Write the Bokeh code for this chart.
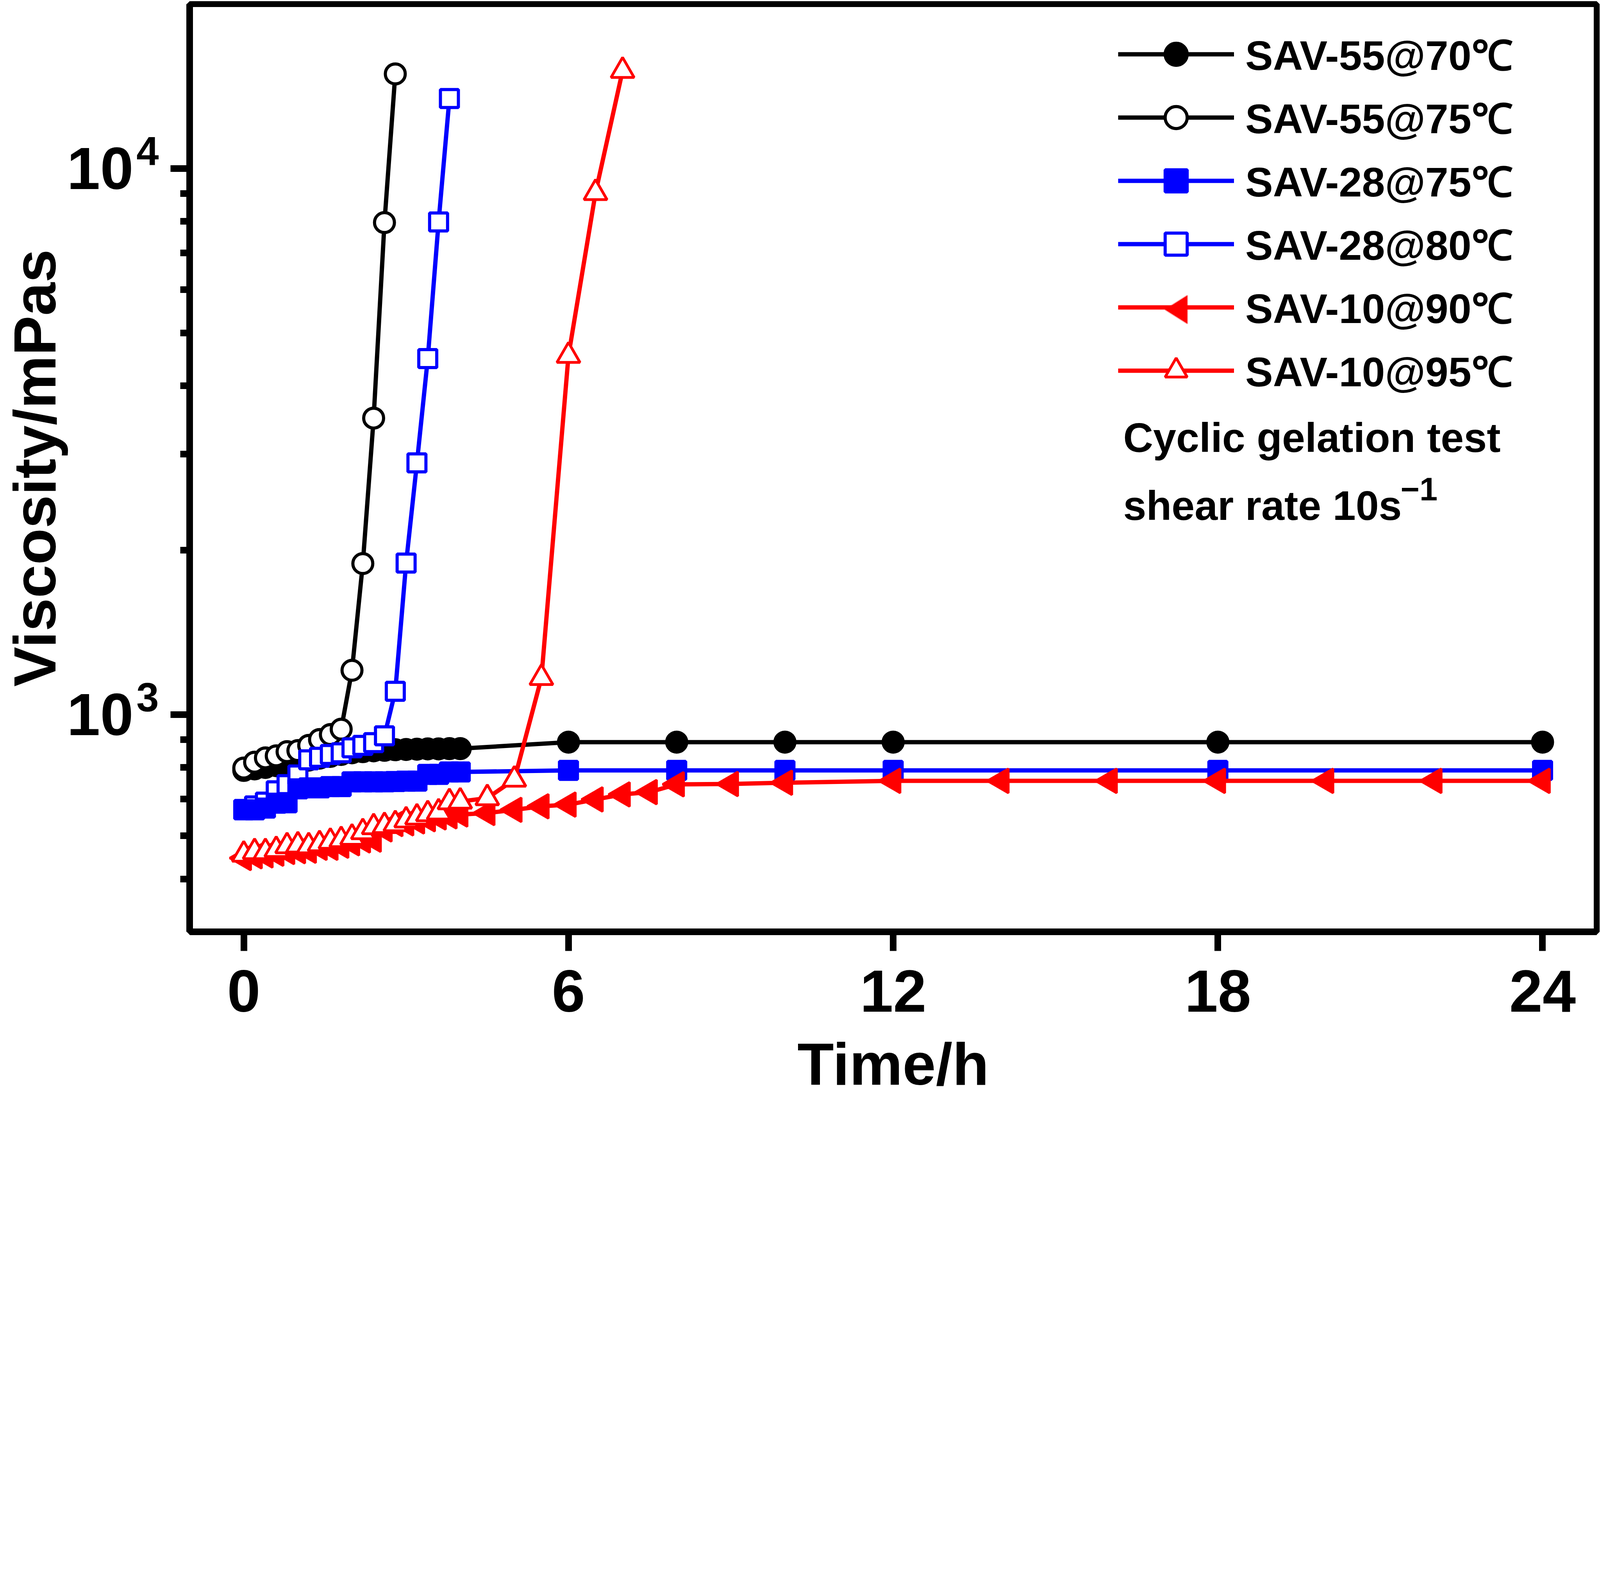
import math
from bokeh.plotting import figure
from bokeh.models import (Range1d, FixedTicker, Legend, LegendItem, Label, PolyAnnotation,
                          LogAxis, LogScale)
from bokeh.embed import file_html
from bokeh.resources import INLINE

# SAV-55 @ 70 C  (filled black circles)
time_55_70 = [0, 0.2, 0.4, 0.6, 0.8, 1.0, 1.2, 1.4, 1.6, 1.8, 2.0, 2.2, 2.4, 2.6, 2.8,
              3.0, 3.2, 3.4, 3.6, 3.8, 4.0, 6, 8, 10, 12, 18, 24]
visc_55_70 = [790, 795, 800, 806, 812, 818, 825, 832, 838, 845, 851, 855, 858, 860, 862,
              863, 864, 865, 865, 866, 866, 890, 890, 890, 890, 890, 890]

# SAV-55 @ 75 C  (open black circles)
time_55_75 = [0, 0.2, 0.4, 0.6, 0.8, 1.0, 1.2, 1.4, 1.6, 1.8, 2.0, 2.2, 2.4, 2.6, 2.8]
visc_55_75 = [798, 818, 833, 840, 855, 859, 878, 900, 919, 940, 1205, 1890, 3490, 7960, 14900]

# SAV-28 @ 75 C  (filled blue squares)
time_28_75 = [0, 0.2, 0.4, 0.6, 0.8, 1.0, 1.2, 1.4, 1.6, 1.8, 2.0, 2.2, 2.4, 2.6, 2.8,
              3.0, 3.2, 3.4, 3.6, 3.8, 4.0, 6, 8, 10, 12, 18, 24]
visc_28_75 = [669, 669, 674, 688, 689, 731, 734, 734, 738, 738, 753, 753, 753, 753, 754,
              755, 755, 777, 777, 785, 785, 790, 790, 790, 790, 790, 790]

# SAV-28 @ 80 C  (open blue squares)
time_28_80 = [0, 0.2, 0.4, 0.6, 0.8, 1.0, 1.2, 1.4, 1.6, 1.8, 2.0, 2.2, 2.4, 2.6, 2.8,
              3.0, 3.2, 3.4, 3.6, 3.8]
visc_28_80 = [670, 680, 691, 725, 744, 775, 826, 835, 845, 851, 869, 878, 888, 914, 1103,
              1894, 2890, 4485, 7980, 13430]

# SAV-10 @ 90 C  (filled red left triangles)
time_10_90 = [0, 0.2, 0.4, 0.6, 0.8, 1.0, 1.2, 1.4, 1.6, 1.8, 2.0, 2.2, 2.4, 2.6, 2.8,
              3.0, 3.2, 3.4, 3.6, 3.8, 4.0, 4.5, 5, 5.5, 6, 6.5, 7, 7.5, 8, 9, 10,
              12, 14, 16, 18, 20, 22, 24]
visc_10_90 = [546, 550, 552, 556, 560, 562, 563, 570, 570, 575, 581, 588, 590, 616, 630,
              632, 637, 643, 648, 651, 656, 660, 669, 679, 684, 699, 714, 721, 745, 746, 750,
              756, 756, 756, 756, 756, 756, 756]

# SAV-10 @ 95 C  (open red triangles)
time_10_95 = [0, 0.2, 0.4, 0.6, 0.8, 1.0, 1.2, 1.4, 1.6, 1.8, 2.0, 2.2, 2.4, 2.6, 2.8,
              3.0, 3.2, 3.4, 3.6, 3.8, 4.0, 4.5, 5, 5.5, 6, 6.5, 7]
visc_10_95 = [554, 560, 560, 565, 574, 576, 574, 579, 585, 589, 595, 609, 622, 625, 630,
              640, 648, 657, 662, 691, 693, 703, 760, 1167, 4540, 9020, 15100]

x_ticks = [0, 6, 12, 18, 24]
y_ticks = [1000, 10000]
y_minor = [500, 600, 700, 800, 900, 2000, 3000, 4000, 5000, 6000, 7000, 8000, 9000]
y_labels = {1000: "10", 10000: "10"}
y_exponents = {1000: "3", 10000: "4"}

FONT = "Liberation Sans"

p = figure(width=4117, height=2831, y_axis_type="log",
           x_range=Range1d(-1, 25), y_range=Range1d(400, 20000),
           output_backend="svg", toolbar_location=None,
           min_border_left=476, min_border_right=30,
           min_border_top=10, min_border_bottom=446,
           x_axis_label="Time/h")
p.grid.visible = False
p.outline_line_color = "black"
p.outline_line_width = 15
p.background_fill_color = "white"
p.border_fill_color = "white"

# series: (time, visc, colour, marker, fill, size, marker line width, angle, label)
series = {
    "55_70": (time_55_70, visc_55_70, "black", "circle", "black", 51, 8, 0, "SAV-55@70℃"),
    "55_75": (time_55_75, visc_55_75, "black", "circle", "white", 51, 8, 0, "SAV-55@75℃"),
    "28_80": (time_28_80, visc_28_80, "blue", "square", "white", 46, 8, 0, "SAV-28@80℃"),
    "28_75": (time_28_75, visc_28_75, "blue", "square", "blue", 46, 8, 0, "SAV-28@75℃"),
    "10_90": (time_10_90, visc_10_90, "red", "triangle", "red", 62, 6, math.pi / 2, "SAV-10@90℃"),
    "10_95": (time_10_95, visc_10_95, "red", "triangle", "white", 59, 7, 0, "SAV-10@95℃"),
}

rends = {}
for key in ["55_70", "55_75", "28_80", "28_75", "10_90", "10_95"]:
    t, v, col, mk, fill, sz, lw, ang, lab = series[key]
    ln = p.line(t, v, line_color=col, line_width=11)
    sc = p.scatter(t, v, marker=mk, size=sz, fill_color=fill, line_color=col,
                   line_width=lw, angle=ang)
    rends[key] = (ln, sc, lab)

items = []
for key in ["55_70", "55_75", "28_75", "28_80", "10_90", "10_95"]:
    ln, sc, lab = rends[key]
    # the legend draws markers unrotated, so the left triangle is added below
    rs = [ln] if key == "10_90" else [ln, sc]
    items.append(LegendItem(label=lab, renderers=rs))

legend = Legend(items=items, location=(2377, 1365), padding=0, margin=0,
                glyph_width=297, glyph_height=141, label_height=141, spacing=18,
                label_standoff=29, border_line_alpha=0, background_fill_alpha=0,
                label_text_font=FONT, label_text_font_size="106px",
                label_text_font_style="bold", label_text_color="black")
p.add_layout(legend)

# left-pointing triangle of the SAV-10@90 legend entry
p.add_layout(PolyAnnotation(xs=[2497, 2554, 2554], ys=[1593, 1629, 1557],
                            xs_units="screen", ys_units="screen",
                            fill_color="red", fill_alpha=1.0,
                            line_color="red", line_width=4))

def note(x, y, text, size):
    p.add_layout(Label(x=x, y=y, x_units="screen", y_units="screen", text=text,
                       text_font=FONT, text_font_size=size, text_font_style="bold",
                       text_color="black", text_baseline="alphabetic"))

note(2390, 1266, "Cyclic gelation test", "106px")
note(2390, 1092, "shear rate 10s", "106px")
note(3100, 1134, "−1", "83px")

for ax in p.axis:
    ax.axis_line_width = 17
    ax.axis_line_color = "black"
    ax.major_tick_line_width = 17
    ax.minor_tick_line_width = 17
    ax.major_tick_out = 49
    ax.major_tick_in = 0
    ax.minor_tick_out = 24
    ax.minor_tick_in = 0
    ax.major_label_text_font = FONT
    ax.major_label_text_font_size = "153px"
    ax.major_label_text_font_style = "bold"
    ax.major_label_text_color = "black"
    ax.axis_label_text_font = FONT
    ax.axis_label_text_font_size = "153px"
    ax.axis_label_text_font_style = "bold"
    ax.axis_label_text_color = "black"

p.xaxis.ticker = FixedTicker(ticks=x_ticks, minor_ticks=[])
p.xaxis.major_label_standoff = 50
p.xaxis.axis_label_standoff = 45

# y axis next to the frame: ticks only
yax = p.yaxis[0]
yax.ticker = FixedTicker(ticks=y_ticks, minor_ticks=y_minor)
yax.major_label_overrides = {1000: "", 10000: ""}
yax.major_label_standoff = 0

# exponents, on a range shifted so that they sit raised beside the "10"
p.extra_y_ranges = {"exp": Range1d(372.0, 18601.0)}
p.extra_y_scales = {"exp": LogScale()}
exp_axis = LogAxis(y_range_name="exp", ticker=FixedTicker(ticks=y_ticks, minor_ticks=[]),
                   major_label_overrides=y_exponents, major_label_standoff=30,
                   axis_line_color=None, major_tick_line_color=None,
                   minor_tick_line_color=None, major_tick_out=0, minor_tick_out=0,
                   major_label_text_font=FONT, major_label_text_font_size="103px",
                   major_label_text_font_style="bold", major_label_text_color="black")
p.add_layout(exp_axis, "left")

# the "10" of each tick label and the axis title
base_axis = LogAxis(ticker=FixedTicker(ticks=y_ticks, minor_ticks=[]),
                    major_label_overrides=y_labels, major_label_standoff=5,
                    axis_line_color=None, major_tick_line_color=None,
                    minor_tick_line_color=None, major_tick_out=0, minor_tick_out=0,
                    major_label_text_font=FONT, major_label_text_font_size="153px",
                    major_label_text_font_style="bold", major_label_text_color="black",
                    axis_label="Viscosity/mPas", axis_label_standoff=-6,
                    axis_label_text_font=FONT, axis_label_text_font_size="153px",
                    axis_label_text_font_style="bold", axis_label_text_color="black")
p.add_layout(base_axis, "left")

open("out.html", "w", encoding="utf-8").write(file_html(p, INLINE))
